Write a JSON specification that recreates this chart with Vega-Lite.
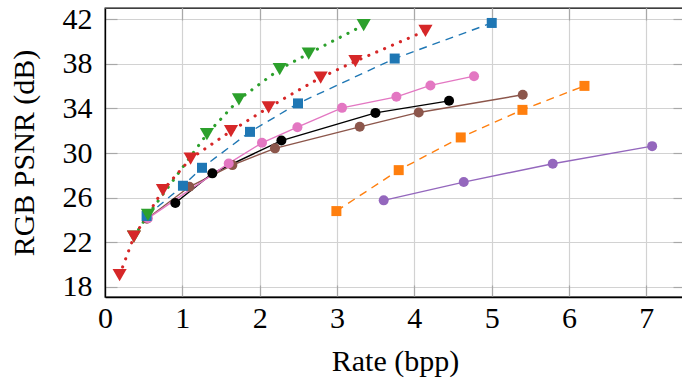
{
  "$schema": "https://vega.github.io/schema/vega-lite/v6.json",
  "autosize": {"type": "none"},
  "padding": {"left": 105, "top": 8, "right": 0, "bottom": 84},
  "width": 580,
  "height": 289,
  "config": {
    "view": {"stroke": "#000000", "strokeWidth": 1.3},
    "font": "Liberation Serif"
  },
  "data": {
    "values": [
      {"series": "purple", "x": 3.604, "y": 25.76},
      {"series": "purple", "x": 4.639, "y": 27.40},
      {"series": "purple", "x": 5.790, "y": 29.04},
      {"series": "purple", "x": 7.075, "y": 30.62},
      {"series": "orange", "x": 2.992, "y": 24.80},
      {"series": "orange", "x": 3.798, "y": 28.47},
      {"series": "orange", "x": 4.600, "y": 31.40},
      {"series": "orange", "x": 5.398, "y": 33.87},
      {"series": "orange", "x": 6.200, "y": 36.02},
      {"series": "brown", "x": 0.542, "y": 24.11},
      {"series": "brown", "x": 1.091, "y": 26.98},
      {"series": "brown", "x": 1.647, "y": 28.92},
      {"series": "brown", "x": 2.198, "y": 30.42},
      {"series": "brown", "x": 3.294, "y": 32.35},
      {"series": "brown", "x": 4.057, "y": 33.64},
      {"series": "brown", "x": 5.402, "y": 35.22},
      {"series": "black", "x": 0.909, "y": 25.52},
      {"series": "black", "x": 1.388, "y": 28.18},
      {"series": "black", "x": 2.281, "y": 31.12},
      {"series": "black", "x": 3.497, "y": 33.60},
      {"series": "black", "x": 4.449, "y": 34.68},
      {"series": "pink", "x": 0.555, "y": 24.15},
      {"series": "pink", "x": 1.600, "y": 29.07},
      {"series": "pink", "x": 2.030, "y": 30.92},
      {"series": "pink", "x": 2.488, "y": 32.32},
      {"series": "pink", "x": 3.065, "y": 34.05},
      {"series": "pink", "x": 3.768, "y": 35.04},
      {"series": "pink", "x": 4.208, "y": 36.06},
      {"series": "pink", "x": 4.772, "y": 36.89},
      {"series": "blue", "x": 0.538, "y": 24.36},
      {"series": "blue", "x": 1.008, "y": 27.07},
      {"series": "blue", "x": 1.254, "y": 28.68},
      {"series": "blue", "x": 1.875, "y": 31.90},
      {"series": "blue", "x": 2.496, "y": 34.45},
      {"series": "blue", "x": 3.746, "y": 38.47},
      {"series": "blue", "x": 5.001, "y": 41.66},
      {"series": "green", "x": 0.374, "y": 22.50},
      {"series": "green", "x": 0.555, "y": 24.45},
      {"series": "green", "x": 1.318, "y": 31.70},
      {"series": "green", "x": 1.732, "y": 34.80},
      {"series": "green", "x": 2.259, "y": 37.52},
      {"series": "green", "x": 2.634, "y": 38.92},
      {"series": "green", "x": 3.345, "y": 41.46},
      {"series": "red", "x": 0.189, "y": 19.07},
      {"series": "red", "x": 0.374, "y": 22.50},
      {"series": "red", "x": 0.749, "y": 26.68},
      {"series": "red", "x": 1.107, "y": 29.50},
      {"series": "red", "x": 1.629, "y": 31.97},
      {"series": "red", "x": 2.116, "y": 34.09},
      {"series": "red", "x": 2.789, "y": 36.77},
      {"series": "red", "x": 3.238, "y": 38.23},
      {"series": "red", "x": 4.144, "y": 40.95}
    ]
  },
  "resolve": {"axis": {"x": "independent", "y": "independent"}},
  "layer": [
    {
      "mark": {"type": "point", "opacity": 0},
      "encoding": {
        "x": {
          "field": "x", "type": "quantitative",
          "scale": {"domain": [0, 7.5], "nice": false, "zero": false},
          "axis": {
            "orient": "top", "title": null, "labels": false, "domain": false, "grid": false,
            "values": [0, 1, 2, 3, 4, 5, 6, 7],
            "tickColor": "#a8a8a8", "tickSize": -12, "tickWidth": 1.2
          }
        },
        "y": {
          "field": "y", "type": "quantitative",
          "scale": {"domain": [17.1, 43.0], "nice": false, "zero": false},
          "axis": {
            "orient": "right", "title": null, "labels": false, "domain": false, "grid": false,
            "values": [18, 22, 26, 30, 34, 38, 42],
            "tickColor": "#a8a8a8", "tickSize": -12, "tickWidth": 1.2
          }
        }
      }
    },
    {
      "encoding": {
        "x": {
          "field": "x", "type": "quantitative",
          "scale": {"domain": [0, 7.5], "nice": false, "zero": false},
          "axis": {
            "title": "Rate (bpp)", "values": [0, 1, 2, 3, 4, 5, 6, 7],
            "grid": true, "gridColor": "#d2d2d2", "gridWidth": 1.2,
            "domainColor": "#000000", "domainWidth": 1.3,
            "tickColor": "#a8a8a8", "tickSize": -12, "tickWidth": 1.2,
            "labelFont": "Liberation Serif", "labelFontSize": 30, "labelColor": "#000000",
            "labelPadding": 18, "labelFlush": false,
            "titleFont": "Liberation Serif", "titleFontSize": 30, "titleFontWeight": "normal", "titleColor": "#000000",
            "titleBaseline": "alphabetic", "titleY": 73
          }
        },
        "y": {
          "field": "y", "type": "quantitative",
          "scale": {"domain": [17.1, 43.0], "nice": false, "zero": false},
          "axis": {
            "title": "RGB PSNR (dB)", "values": [18, 22, 26, 30, 34, 38, 42],
            "grid": true, "gridColor": "#d2d2d2", "gridWidth": 1.2,
            "domainColor": "#000000", "domainWidth": 1.3,
            "tickColor": "#a8a8a8", "tickSize": -12, "tickWidth": 1.2,
            "labelFont": "Liberation Serif", "labelFontSize": 30, "labelColor": "#000000",
            "labelPadding": 25, "labelFlush": false,
            "titleFont": "Liberation Serif", "titleFontSize": 30, "titleFontWeight": "normal", "titleColor": "#000000",
            "titleBaseline": "alphabetic", "titleX": -72
          }
        },
        "color": {
          "field": "series", "type": "nominal", "legend": null,
          "scale": {
            "domain": ["purple", "orange", "brown", "black", "pink", "blue", "red", "green"],
            "range": ["#9467bd", "#ff7f0e", "#8c564b", "#000000", "#e377c2", "#1f77b4", "#d62728", "#2ca02c"]
          }
        }
      },
      "layer": [
        {
          "transform": [{"filter": {"field": "series", "oneOf": ["purple", "brown", "black", "pink"]}}],
          "mark": {"type": "line", "strokeWidth": 1.4}
        },
        {
          "transform": [{"filter": {"field": "series", "oneOf": ["orange", "blue"]}}],
          "mark": {"type": "line", "strokeWidth": 1.4, "strokeDash": [8, 6]}
        },
        {
          "transform": [{"filter": {"field": "series", "oneOf": ["green", "red"]}}],
          "mark": {"type": "line", "strokeWidth": 3.1, "strokeDash": [0.1, 8.5], "strokeCap": "round"}
        },
        {
          "transform": [{"filter": {"field": "series", "oneOf": ["purple", "brown", "black", "pink"]}}],
          "mark": {"type": "point", "shape": "circle", "filled": true, "opacity": 1, "size": 100}
        },
        {
          "transform": [{"filter": {"field": "series", "oneOf": ["orange", "blue"]}}],
          "mark": {"type": "point", "shape": "square", "filled": true, "opacity": 1, "size": 100}
        },
        {
          "transform": [{"filter": {"field": "series", "oneOf": ["green", "red"]}}],
          "mark": {"type": "point", "shape": "triangle-down", "filled": true, "opacity": 1, "size": 200}
        }
      ]
    }
  ]
}
